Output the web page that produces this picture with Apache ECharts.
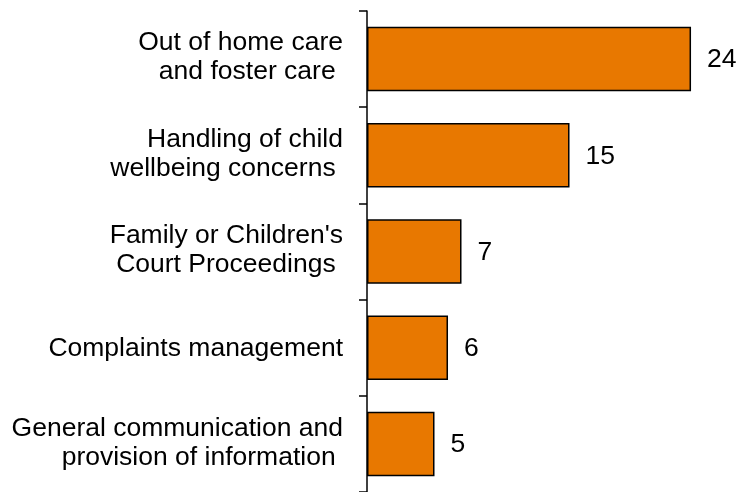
<!DOCTYPE html>
<html><head><meta charset="utf-8">
<script src="https://cdn.jsdelivr.net/npm/echarts@6/dist/echarts.min.js"></script>
<style>html,body{margin:0;padding:0;background:#fff}#c{width:741px;height:492px}</style>
</head><body><div id="c"></div>
<script>
const categories = [
  "Out of home care\nand foster care ",
  "Handling of child\nwellbeing concerns ",
  "Family or Children's\nCourt Proceedings ",
  "Complaints management",
  "General communication and\nprovision of information "
];
const values = [24, 15, 7, 6, 5];

const font = {color: '#000', fontFamily: 'Liberation Sans, Arial', fontSize: 26.5};
const labelAxis = (gi, multi) => ({
  type: 'category', inverse: true, data: categories, gridIndex: gi,
  axisLine: {show: false}, axisTick: {show: false},
  axisLabel: Object.assign({
    lineHeight: 29, margin: 24, align: 'right',
    formatter: v => ((v.indexOf('\n') >= 0) === multi ? v : '')
  }, font)
});
const chart = echarts.init(document.getElementById('c'), null, {renderer: 'canvas'});
chart.setOption({
  animation: false,
  grid: [
    {left: 367, top: 11, right: 0, height: 482},
    {left: 367, top: 9.3, right: 0, height: 482},
    {left: 367, top: 14.4, right: 0, height: 482}
  ],
  xAxis: [0, 1, 2].map(i => ({type: 'value', min: 0, max: 27.7, show: false, gridIndex: i})),
  yAxis: [{
    type: 'category', inverse: true, data: categories, gridIndex: 0,
    axisLine: {show: true, lineStyle: {color: '#000', width: 1.5}},
    axisTick: {show: true, length: 8, lineStyle: {color: '#000', width: 1.5}},
    axisLabel: {show: false}
  }, labelAxis(1, true), labelAxis(2, false)],
  series: [{
    type: 'bar', data: values, barWidth: '67%', xAxisIndex: 0, yAxisIndex: 0,
    itemStyle: {color: '#E87800', borderColor: '#000', borderWidth: 1.5},
    label: Object.assign({show: true, position: 'right', distance: 16, offset: [0, 1]}, font)
  }]
});
</script></body></html>
